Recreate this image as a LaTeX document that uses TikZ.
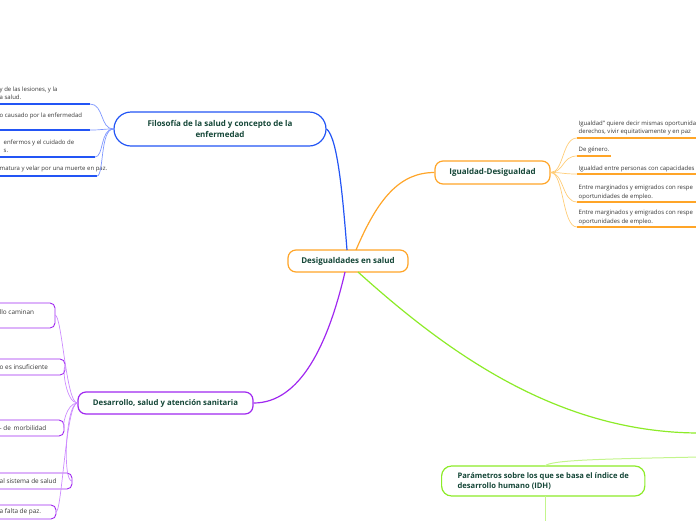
\documentclass[tikz,border=0pt]{standalone}
\usepackage{fontspec}
\setmainfont{Open Sans}
\definecolor{cblue}{RGB}{35,85,245}
\definecolor{lblue}{RGB}{125,150,255}
\definecolor{corange}{RGB}{255,165,40}
\definecolor{lorange}{RGB}{255,205,120}
\definecolor{cpurple}{RGB}{160,40,240}
\definecolor{lpurple}{RGB}{205,140,255}
\definecolor{cgreen}{RGB}{140,235,40}
\definecolor{lgreen}{RGB}{195,245,140}
\definecolor{ctext}{RGB}{20,70,55}
\definecolor{ctxt}{RGB}{55,55,55}
\tikzset{
  topic/.style={draw, line width=1.2pt, fill=white, rounded corners=8pt, text=ctext, font=\fontsize{8}{11}\selectfont\bfseries, inner sep=0pt, align=center},
  leaf/.style={text=ctxt, font=\fontsize{6}{8.5}\selectfont, inner sep=0pt, align=left, anchor=west},
  pleaf/.style={text=ctxt, font=\fontsize{6.4}{8.5}\selectfont, inner sep=0pt, anchor=west},
  pbox/.style={draw=cpurple, line width=0.9pt, rounded corners=5pt},
  uline/.style={line width=1.6pt},
  conn/.style={line width=0.7pt},
}
\begin{document}
\begin{tikzpicture}[x=1pt,y=-1pt]
\useasboundingbox (0,0) rectangle (696,520);
\clip (0,0) rectangle (696,520);
% main topics
\node[topic, draw=corange, minimum width=120pt, minimum height=22pt] (c) at (348,261) {Desigualdades en salud};
\node[topic, draw=cblue, minimum width=212pt, minimum height=34pt, rounded corners=17pt] (b) at (220,129) {Filosofía de la salud y concepto de la\\enfermedad};
\node[topic, draw=corange, minimum width=115pt, minimum height=23pt] (o) at (492.5,172.5) {Igualdad-Desigualdad};
\node[topic, draw=cpurple, minimum width=175pt, minimum height=22pt, font=\fontsize{7.8}{10}\selectfont\bfseries] (p) at (165.5,403) {Desarrollo, salud y atención sanitaria};
\node[topic, draw=cgreen, anchor=west, minimum height=30pt, rounded corners=10pt, align=left, inner xsep=16pt, font=\fontsize{7.6}{10.5}\selectfont\bfseries] (g) at (441,481) {Parámetros sobre los que se basa el índice de\\desarrollo humano (IDH)};
% coordinates
\coordinate (cn1) at (347,250);
\coordinate (cn2) at (356,250);
\coordinate (cs1) at (345,272);
\coordinate (cs2) at (358,272);
\coordinate (gx) at (700,433);
\coordinate (gx2) at (700,457);
\coordinate (gtop) at (545,466);
\coordinate (gbot) at (545,496);
\coordinate (gdown) at (545,525);
% main connectors
\draw[cblue, line width=1.2pt] (cn1) .. controls (343,200) and (338,138) .. (b.east);
\draw[corange, line width=1.2pt] (cn2) .. controls (378,198) and (400,172.5) .. (o.west);
\draw[cpurple, line width=1.2pt] (cs1) .. controls (328,345) and (300,403) .. (p.east);
\draw[cgreen, line width=1.2pt] (cs2) .. controls (450,355) and (560,433) .. (gx);
\draw[lgreen, line width=1pt] (gx2) .. controls (600,459) and (550,460) .. (gtop);
\draw[lgreen, line width=1pt] (gbot) -- (gdown);
% blue leaves
\coordinate (bu1a) at (-5,104); \coordinate (bu1) at (90,104);
\coordinate (bu2a) at (-5,130); \coordinate (bu2) at (90,130);
\coordinate (bu3a) at (-5,157); \coordinate (bu3) at (95,157);
\coordinate (bu4a) at (-5,176); \coordinate (bu4) at (97,176);
\node[leaf] (bt1) at (-0.5,93.5) {y de las lesiones, y la\\a salud.};
\node[leaf] (bt2) at (-0.5,115.5) {o causado por la enfermedad};
\node[leaf] (bt3) at (3.5,146) {enfermos y el cuidado de\\s.};
\node[leaf] (bt4) at (-0.5,168.5) {matura y velar por una muerte en paz.};
\foreach \i in {1,2,3,4} {
  \draw[cblue, uline] (bu\i a) -- (bu\i);
  \draw[lblue, conn] (b.west) .. controls (100,129) and (104,0|-bu\i) .. (bu\i);
}
% orange leaves
\coordinate (ou1) at (577,138); \coordinate (ou1b) at (700,138);
\coordinate (ou2) at (577,156); \coordinate (ou2b) at (611,156);
\coordinate (ou3) at (577,174); \coordinate (ou3b) at (700,174);
\coordinate (ou4) at (577,202); \coordinate (ou4b) at (700,202);
\coordinate (ou5) at (577,227); \coordinate (ou5b) at (700,227);
\node[leaf] (ot1) at (578.5,128) {Igualdad" quiere decir mismas oportunida\\derechos, vivir equitativamente y en paz};
\node[leaf] (ot2) at (578.5,149.5) {De género.};
\node[leaf] (ot3) at (578.5,168.5) {Igualdad entre personas con capacidades};
\node[leaf] (ot4) at (578.5,192.5) {Entre marginados y emigrados con respe\\oportunidades de empleo.};
\node[leaf] (ot5) at (578.5,217.5) {Entre marginados y emigrados con respe\\oportunidades de empleo.};
\foreach \i in {1,2,3,4,5} {
  \draw[corange, uline] (ou\i) -- (ou\i b);
  \draw[lorange, conn] (o.east) .. controls (564,172.5) and (562,0|-ou\i) .. (ou\i);
}
% purple leaves
\node[pleaf] (pt1) at (-0.5,312) {llo caminan};
\draw[pbox] (-20,303) rectangle (55,328);
\coordinate (pe1) at (55,315);
\node[pleaf] (pt2) at (-0.5,367) {o es insuficiente};
\draw[pbox] (-20,359) rectangle (65,375);
\coordinate (pe2) at (65,367);
\node[pleaf] (pt3) at (-0.5,428) {- de\, morbilidad};
\draw[pbox] (-20,420) rectangle (64,436);
\coordinate (pe3) at (64,428);
\node[pleaf] (pt4) at (-0.5,481) {al sistema de salud};
\draw[pbox] (-20,473) rectangle (72,489);
\coordinate (pe4) at (72,481);
\node[pleaf] (pt5) at (-0.5,512) {a falta de paz.};
\draw[pbox] (-20,505) rectangle (56,519);
\coordinate (pe5) at (56,512);
\foreach \i in {1,2,3,4,5} {
  \draw[lpurple, conn] (p.west) .. controls (66,403) and (62,0|-pe\i) .. (pe\i);
}
\end{tikzpicture}
\end{document}
